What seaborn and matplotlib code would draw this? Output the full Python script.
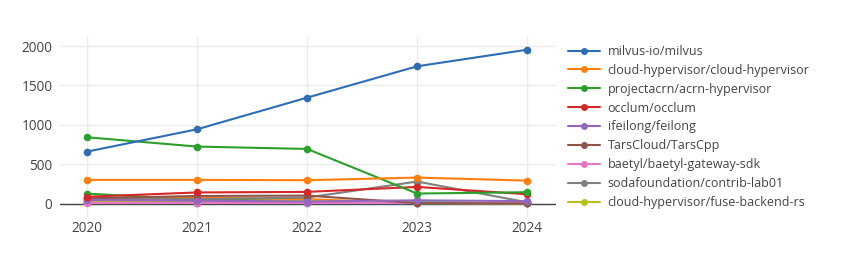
import matplotlib
matplotlib.use("Agg")
import matplotlib.pyplot as plt
import seaborn as sns
import pandas as pd
from matplotlib.lines import Line2D

years = [2020, 2021, 2022, 2023, 2024]

repo_names = [
    "milvus-io/milvus",
    "cloud-hypervisor/cloud-hypervisor",
    "projectacrn/acrn-hypervisor",
    "occlum/occlum",
    "ifeilong/feilong",
    "TarsCloud/TarsCpp",
    "baetyl/baetyl-gateway-sdk",
    "sodafoundation/contrib-lab01",
    "cloud-hypervisor/fuse-backend-rs",
]

milvus = [662, 945, 1346, 1743, 1953]
cloud_hypervisor = [304, 304, 300, 333, 295]
acrn_hypervisor = [844, 726, 696, 131, 148]
occlum = [90, 145, 152, 215, 122]
feilong = [50, 40, 30, 45, 35]
tarscpp = [70, 100, 105, 10, 5]
baetyl_gateway = [5, 5, 5, 5, 5]
contrib_lab01 = [60, 60, 80, 283, 20]
fuse_backend = [30, 20, 40, 10, 5]

# further series drawn in the chart but not listed in its legend
extra_cyan = [30, 25, 20, 15, 10]
extra_blue = [20, 15, 10, 8, 5]
extra_orange = [60, 80, 60, 10, 5]
extra_green = [130, 55, 40, 20, 10]

legend_series = [milvus, cloud_hypervisor, acrn_hypervisor, occlum, feilong,
                 tarscpp, baetyl_gateway, contrib_lab01, fuse_backend]
extra_series = [extra_cyan, extra_blue, extra_orange, extra_green]

colors = ["#2e6db4", "#ff7f0e", "#2ca02c", "#d62728", "#9467bd",
          "#8c564b", "#e377c2", "#7f7f7f", "#bcbd22", "#17becf"]
extra_colors = ["#17becf", "#2e6db4", "#ff7f0e", "#2ca02c"]

sns.set_theme(style="white")
plt.rcParams["font.family"] = ["Open Sans", "DejaVu Sans"]

fig = plt.figure(figsize=(8.55, 2.57), dpi=100)
ax = fig.add_axes([0.0696, 0.156, 0.5804, 0.70])

rows = []
for name, vals in zip(repo_names, legend_series):
    for y, v in zip(years, vals):
        rows.append({"year": y, "value": v, "repo": name})
extra_names = ["extra%d" % i for i in range(len(extra_series))]
for name, vals in zip(extra_names, extra_series):
    for y, v in zip(years, vals):
        rows.append({"year": y, "value": v, "repo": name})
df = pd.DataFrame(rows)

draw_order = list(reversed(extra_names)) + list(reversed(repo_names))
palette = dict(zip(repo_names, colors[:9]))
palette.update(dict(zip(extra_names, extra_colors)))

for name in draw_order:
    sub = df[df["repo"] == name]
    sns.lineplot(data=sub, x="year", y="value", ax=ax, color=palette[name],
                 marker="o", markersize=5.5, markeredgewidth=0, linewidth=1.5,
                 legend=False)

ax.set_xlim(2019.75, 2024.26)
ax.set_ylim(-165, 2114)
ax.set_xticks(years)
ax.set_xticklabels([str(y) for y in years])
ax.set_yticks([0, 500, 1000, 1500, 2000])
ax.set_xlabel("")
ax.set_ylabel("")
ax.grid(True, color="#ebebeb", linewidth=1)
ax.set_axisbelow(True)
ax.axhline(0, color="#444444", linewidth=1, zorder=1.5)
for s in ax.spines.values():
    s.set_visible(False)
ax.tick_params(axis="both", length=0, labelsize=9.8, colors="#444444", pad=5)
ax.tick_params(axis="x", pad=3)

handles = [Line2D([0], [0], color=c, marker="o", markersize=5, linewidth=1.5,
                  markeredgewidth=0) for c in colors[:9]]
fig.legend(handles, repo_names, loc="upper left", bbox_to_anchor=(0.664, 0.825),
           frameon=False, fontsize=9, labelcolor="#444444", handlelength=2.6,
           handletextpad=0.6, labelspacing=0.47, borderaxespad=0, borderpad=0)

fig.savefig("out.png", dpi=100, facecolor="white")
